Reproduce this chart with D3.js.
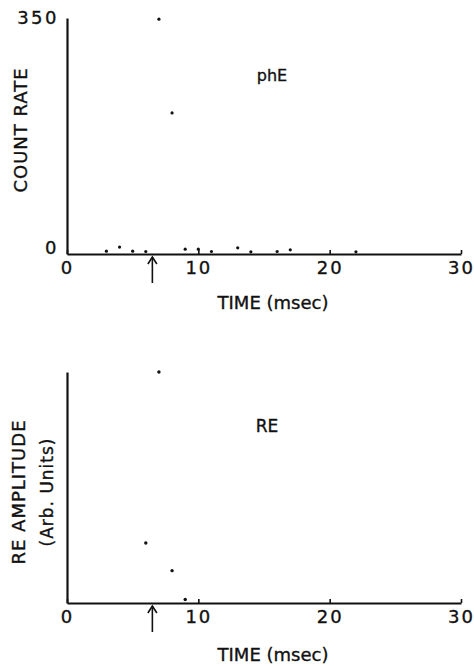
<!DOCTYPE html>
<html>
<head>
<meta charset="utf-8">
<script src="https://cdn.jsdelivr.net/npm/d3@7"></script>
<style>
  html, body { margin: 0; padding: 0; background: #fff; }
  svg { display: block; }
  text { font-family: "DejaVu Sans", sans-serif; fill: #111; stroke: #111; stroke-width: 0.35; }
</style>
</head>
<body>
<svg id="chart" width="474" height="666"></svg>
<script>
// ---- data ----
const xTicks = [0, 10, 20, 30];
const phE_time  = [3, 4, 5, 6, 7, 8, 9, 10, 11, 13, 14, 16, 17, 22];
const phE_count = [2, 8, 2, 1.5, 346, 207, 5, 5, 1.5, 7, 1, 1.5, 4, 1];
const countTicks = [0, 350];
const RE_time = [6, 7, 8, 9];
const RE_amp  = [26, 100, 14, 1.5];
const stimulusTime = 6.5;

const svg = d3.select("#chart");
const x = d3.scaleLinear().domain([0, 30]).range([67, 461]);
const yTop = d3.scaleLinear().domain([0, 350]).range([254, 18]);
const yBot = d3.scaleLinear().domain([0, 100]).range([603, 372]);

function xAxis(g, y0) {
  g.attr("transform", `translate(0,${y0})`)
   .call(d3.axisBottom(x).tickValues(xTicks).tickSizeInner(-4).tickSizeOuter(0).tickPadding(7).tickFormat(d3.format("d")))
   .call(s => s.select(".domain").attr("stroke-width", 2.2).attr("stroke", "#111"))
   .call(s => s.selectAll(".tick line").attr("stroke-width", 1.6).attr("stroke", "#111"))
   .call(s => s.selectAll(".tick text").attr("font-size", 18).attr("letter-spacing", 2)
                .attr("font-family", "DejaVu Sans").attr("fill", "#111"));
}

function arrow(y0) {
  const ax = x(stimulusTime);
  const g = svg.append("g").attr("stroke", "#111").attr("stroke-width", 1.6).attr("fill", "none");
  g.append("line").attr("x1", ax).attr("x2", ax).attr("y1", y0 + 3).attr("y2", y0 + 29);
  g.append("path").attr("d", `M${ax - 4.5},${y0 + 10} L${ax},${y0 + 3} L${ax + 4.5},${y0 + 10}`);
}

// ---- top panel ----
const gTop = svg.append("g");
gTop.append("g").attr("transform", "translate(67,0)")
  .call(d3.axisLeft(yTop).tickValues(countTicks).tickSize(0).tickPadding(8))
  .call(s => s.select(".domain").attr("stroke-width", 2.2).attr("stroke", "#111"))
  .call(s => s.selectAll(".tick text").attr("font-size", 18).attr("letter-spacing", 2.5)
              .attr("font-family", "DejaVu Sans").attr("fill", "#111")
              .attr("dy", d => d === 0 ? "-0.05em" : "0.32em"));
gTop.append("g").call(xAxis, 254);
gTop.selectAll("circle.pt").data(phE_time).join("circle")
  .attr("class", "pt")
  .attr("cx", (d) => x(d))
  .attr("cy", (d, i) => yTop(phE_count[i]) - 1.5)
  .attr("r", 1.6).attr("fill", "#111");
arrow(254);
gTop.append("text").attr("x", 272).attr("y", 81).attr("text-anchor", "middle")
  .attr("font-size", 16).text("phE");
gTop.append("text").attr("transform", "translate(27,130) rotate(-90)").attr("text-anchor", "middle")
  .attr("font-size", 18).attr("letter-spacing", 1).text("COUNT RATE");
gTop.append("text").attr("x", 273).attr("y", 309).attr("text-anchor", "middle")
  .attr("font-size", 18).text("TIME (msec)");

// ---- bottom panel ----
const gBot = svg.append("g");
gBot.append("g").attr("transform", "translate(67,0)")
  .call(d3.axisLeft(yBot).tickValues([]).tickSize(0))
  .call(s => s.select(".domain").attr("stroke-width", 2.2).attr("stroke", "#111"));
gBot.append("g").call(xAxis, 603);
gBot.selectAll("circle.pt").data(RE_time).join("circle")
  .attr("class", "pt")
  .attr("cx", d => x(d))
  .attr("cy", (d, i) => yBot(RE_amp[i]))
  .attr("r", 1.7).attr("fill", "#111");
arrow(603);
gBot.append("text").attr("x", 267).attr("y", 432).attr("text-anchor", "middle")
  .attr("font-size", 17).text("RE");
gBot.append("text").attr("transform", "translate(25,492) rotate(-90)").attr("text-anchor", "middle")
  .attr("font-size", 18).attr("letter-spacing", 1).text("RE AMPLITUDE");
gBot.append("text").attr("transform", "translate(53,492) rotate(-90)").attr("text-anchor", "middle")
  .attr("font-size", 17).attr("letter-spacing", 1).text("(Arb. Units)");
gBot.append("text").attr("x", 273).attr("y", 661).attr("text-anchor", "middle")
  .attr("font-size", 18).text("TIME (msec)");
</script>
</body>
</html>
